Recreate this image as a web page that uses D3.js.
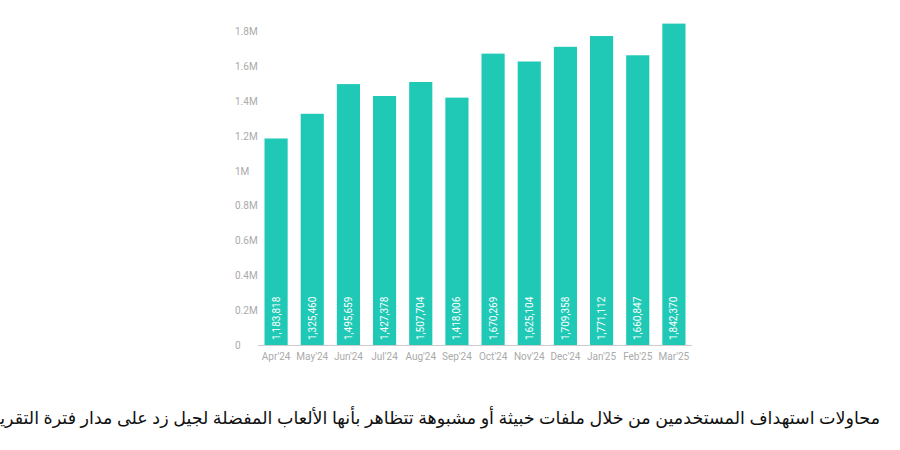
<!DOCTYPE html>
<html><head><meta charset="utf-8">
<script src="https://cdn.jsdelivr.net/npm/d3@7"></script>
<style>body{margin:0;background:#fff}</style>
</head><body><div id="chart"></div>
<script>
const months = ["Apr'24","May'24","Jun'24","Jul'24","Aug'24","Sep'24","Oct'24","Nov'24","Dec'24","Jan'25","Feb'25","Mar'25"];
const values = [1183818,1325460,1495659,1427378,1507704,1418006,1670269,1625104,1709358,1771112,1660847,1842370];
const yTicks = [0,200000,400000,600000,800000,1000000,1200000,1400000,1600000,1800000];
const caption = "محاولات استهداف المستخدمين من خلال ملفات خبيثة أو مشبوهة تتظاهر بأنها الألعاب المفضلة لجيل زد على مدار فترة التقرير";

const W = 900, H = 450;
const svg = d3.select('#chart').append('svg').attr('width', W).attr('height', H);
const font = 'Roboto, "Noto Sans", sans-serif';

const x = d3.scaleBand().domain(months).range([258, 692]).paddingInner(0.36).paddingOuter(0.18);
const y = d3.scaleLinear().domain([0, 1800000]).range([345, 31]);

const fmtY = v => v === 0 ? '0' : (v / 1e6) + 'M';
svg.append('g').selectAll('text').data(yTicks).join('text')
  .attr('x', 235).attr('y', d => y(d) + 4)
  .attr('font-family', font).attr('font-size', 10).attr('fill', '#aaa')
  .text(fmtY);

svg.append('line').attr('x1', 258).attr('x2', 692).attr('y1', 345.5).attr('y2', 345.5)
  .attr('stroke', '#ccc');

svg.append('g').selectAll('rect').data(values).join('rect')
  .attr('x', (d, i) => x(months[i])).attr('width', x.bandwidth())
  .attr('y', d => y(d)).attr('height', d => y(0) - y(d))
  .attr('fill', '#20c9b6');

svg.append('g').selectAll('text').data(values).join('text')
  .attr('transform', (d, i) => `translate(${x(months[i]) + x.bandwidth() / 2 + 3.5},340) rotate(-90)`)
  .attr('font-family', font).attr('font-size', 10).attr('fill', '#fff')
  .text(d3.format(','));

svg.append('g').selectAll('text').data(months).join('text')
  .attr('x', d => x(d) + x.bandwidth() / 2).attr('y', 360).attr('text-anchor', 'middle')
  .attr('font-family', font).attr('font-size', 10).attr('fill', '#aaa')
  .text(d => d);

svg.append('text').attr('x', 880).attr('y', 424).attr('text-anchor', 'start')
  .attr('direction', 'rtl').attr('font-family', '"Noto Sans", "DejaVu Sans", sans-serif')
  .attr('font-size', 17.5).attr('fill', '#111').text(caption);
</script></body></html>
